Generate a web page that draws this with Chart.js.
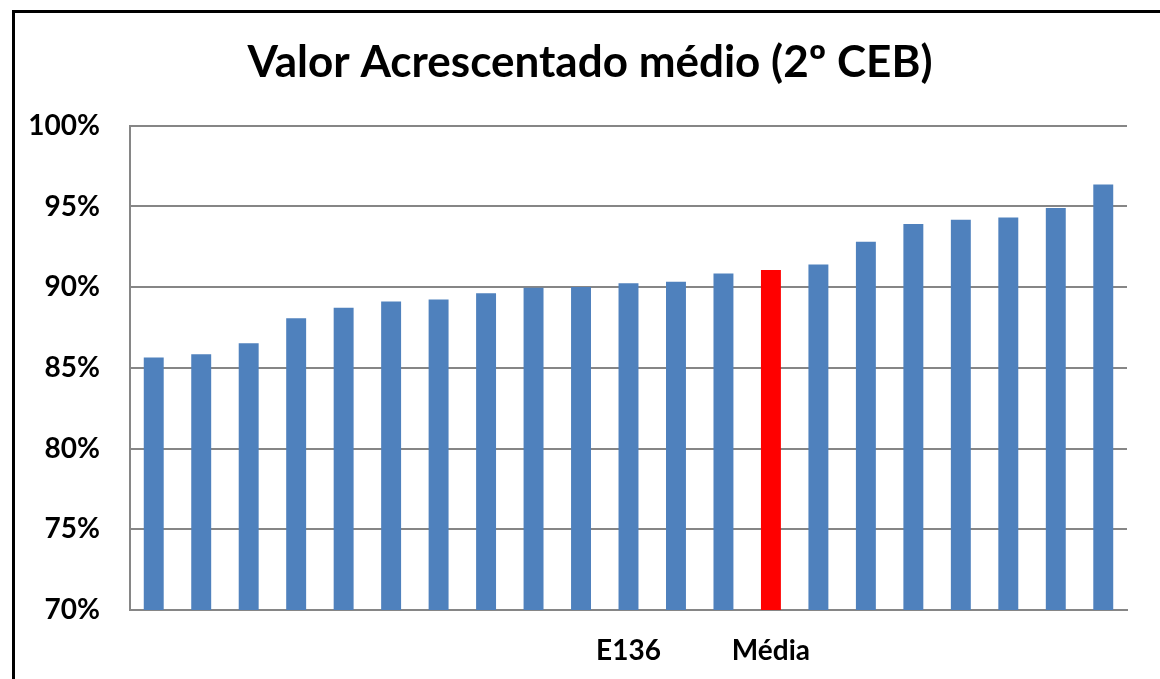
<!DOCTYPE html>
<html lang="pt">
<head>
  <meta charset="UTF-8">
  <title>Valor Acrescentado médio (2º CEB)</title>
  <script src="https://cdn.jsdelivr.net/npm/chart.js"></script>
  <style>
    html, body { margin: 0; padding: 0; background: #fff; overflow: hidden; }
    #wrap { position: relative; width: 1180px; height: 679px; }
    #moldura {
      position: absolute; left: 12px; top: 10px; width: 1200px; height: 720px;
      border: 3px solid #000; pointer-events: none;
    }
  </style>
</head>
<body>
  <div id="wrap">
    <canvas id="grafico" width="1180" height="679"></canvas>
    <div id="moldura"></div>
  </div>

  <script>
    // escolas ordenadas pelo valor acrescentado (só duas têm rótulo)
    const escolas = ['', '', '', '', '', '', '', '', '', '', 'E136', '', '', 'Média', '', '', '', '', '', '', ''];
    const valores = [85.64, 85.85, 86.52, 88.07, 88.73, 89.12, 89.24, 89.63, 89.96, 90.02, 90.25,
                     90.33, 90.85, 91.07, 91.4, 92.82, 93.91, 94.18, 94.32, 94.9, 96.36];
    const ticksY = [70, 75, 80, 85, 90, 95, 100];

    const azul = '#4F81BD';
    const vermelho = '#FF0000';
    const cores = escolas.map(e => e === 'Média' ? vermelho : azul);

    const fonte = "Lato, 'Open Sans', sans-serif";

    const ctx = document.getElementById('grafico').getContext('2d');
    new Chart(ctx, {
      type: 'bar',
      data: {
        labels: escolas,
        datasets: [{
          data: valores,
          backgroundColor: cores,
          borderWidth: 0,
          categoryPercentage: 1,
          barPercentage: 0.42
        }]
      },
      options: {
        responsive: false,
        animation: false,
        layout: { padding: 0 },
        plugins: {
          legend: { display: false },
          tooltip: { enabled: false },
          title: {
            display: true,
            text: 'Valor Acrescentado médio (2º CEB)',
            color: '#000',
            font: { family: fonte, size: 44, weight: 'bold' },
            padding: { top: 36, bottom: 37 }
          }
        },
        scales: {
          x: {
            grid: { display: false, drawTicks: false },
            border: { display: true, color: '#868686', width: 2 },
            ticks: {
              autoSkip: false,
              maxRotation: 0,
              padding: 24,
              color: '#000',
              font: { family: fonte, size: 28, weight: 'bold' }
            },
            afterFit: (s) => { s.height = 69; }
          },
          y: {
            min: ticksY[0],
            max: ticksY[ticksY.length - 1],
            afterBuildTicks: (s) => { s.ticks = ticksY.map(v => ({ value: v })); },
            grid: { color: '#868686', lineWidth: 2, drawTicks: false },
            border: { display: true, color: '#868686', width: 2 },
            ticks: {
              padding: 30,
              color: '#000',
              font: { family: fonte, size: 28, weight: 'bold' },
              callback: (v) => v + '%'
            },
            afterFit: (s) => { s.width = 130; }
          },
          // eixo vazio à direita: só reserva espaço para o título ficar centrado como no original
          y2: {
            position: 'right',
            min: 0,
            max: 1,
            grid: { display: false, drawTicks: false },
            border: { display: false },
            ticks: { display: false },
            afterFit: (s) => { s.width = 53; }
          }
        }
      }
    });
  </script>
</body>
</html>
